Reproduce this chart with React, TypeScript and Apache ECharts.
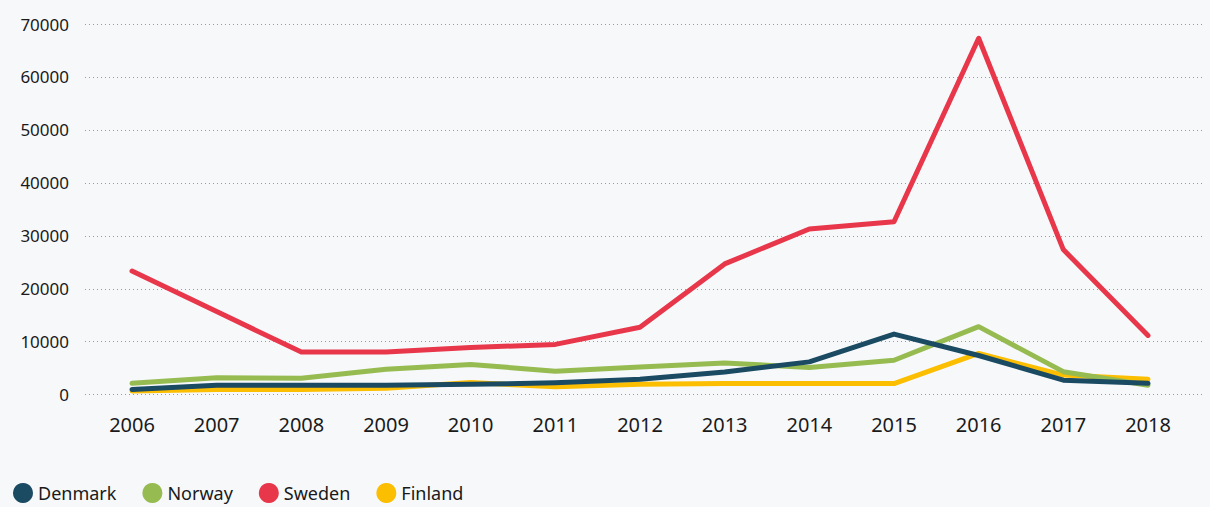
import React, { useEffect, useRef } from "react";
import * as echarts from "echarts";

const years = ["2006", "2007", "2008", "2009", "2010", "2011", "2012", "2013", "2014", "2015", "2016", "2017", "2018"];
const denmark = [1000, 1800, 1800, 1800, 1950, 2250, 2900, 4300, 6200, 11450, 7400, 2750, 2150];
const norway = [2150, 3200, 3100, 4800, 5700, 4450, 5250, 6000, 5150, 6500, 12850, 4350, 1800];
const sweden = [23350, 15700, 8050, 8050, 8900, 9500, 12750, 24700, 31300, 32650, 67300, 27400, 11200];
const finland = [700, 1000, 1000, 1200, 2300, 1500, 1950, 2100, 2100, 2100, 7800, 3700, 2900];

const FONT = "'Noto Sans', 'Open Sans', sans-serif";

export default function App() {
  const ref = useRef<HTMLDivElement>(null);
  useEffect(() => {
    document.body.style.margin = "0";
    document.body.style.background = "#f7f8fa";
    const chart = echarts.init(ref.current!, undefined, { renderer: "svg" });
    const top = 24;
    const bottom = 112.3;
    const mk = (name: string, data: number[], color: string, z: number) => ({
      name,
      type: "line",
      data,
      xAxisIndex: 1,
      yAxisIndex: 1,
      showSymbol: false,
      symbol: "circle",
      z,
      lineStyle: { color, width: 5, cap: "round", join: "round" },
      itemStyle: { color },
    });
    chart.setOption({
      animation: false,
      backgroundColor: "#f7f8fa",
      textStyle: { fontFamily: FONT },
      grid: [
        { left: 85, right: 6, top, bottom },
        { left: 132, right: 62, top, bottom },
      ],
      xAxis: [
        {
          gridIndex: 0,
          type: "category",
          data: years,
          show: false,
        },
        {
          gridIndex: 1,
          type: "category",
          data: years,
          boundaryGap: false,
          axisLine: { show: false },
          axisTick: { show: false },
          splitLine: { show: false },
          axisLabel: { color: "#1a1a1a", fontSize: 20, fontFamily: FONT, margin: 20, interval: 0 },
        },
      ],
      yAxis: [
        {
          gridIndex: 0,
          type: "value",
          min: 0,
          max: 70000,
          interval: 10000,
          axisLine: { show: false },
          axisTick: { show: false },
          axisLabel: {
            color: "#1a1a1a",
            fontSize: 17,
            fontFamily: FONT,
            margin: 16,
            formatter: (v: number) => String(v),
          },
          splitLine: { show: true, lineStyle: { color: "#9a9a9a", width: 1, type: [1, 3] } },
        },
        {
          gridIndex: 1,
          type: "value",
          min: 0,
          max: 70000,
          interval: 10000,
          show: false,
          splitLine: { show: false },
        },
      ],
      legend: {
        left: 13,
        top: 483,
        padding: 0,
        icon: "circle",
        itemWidth: 20,
        itemHeight: 20,
        itemGap: 26,
        textStyle: { color: "#1a1a1a", fontSize: 18, lineHeight: 20, fontFamily: FONT },
        data: ["Denmark", "Norway", "Sweden", "Finland"],
      },
      series: [
        mk("Denmark", denmark, "#1b4a63", 4),
        mk("Norway", norway, "#96bb50", 3),
        mk("Sweden", sweden, "#e8374a", 5),
        mk("Finland", finland, "#fcbe00", 2),
      ],
    });
    return () => chart.dispose();
  }, []);
  return (
    <div
      ref={ref}
      style={{ position: "absolute", left: 0, top: 0, width: 1210, height: 507, background: "#f7f8fa" }}
    />
  );
}
